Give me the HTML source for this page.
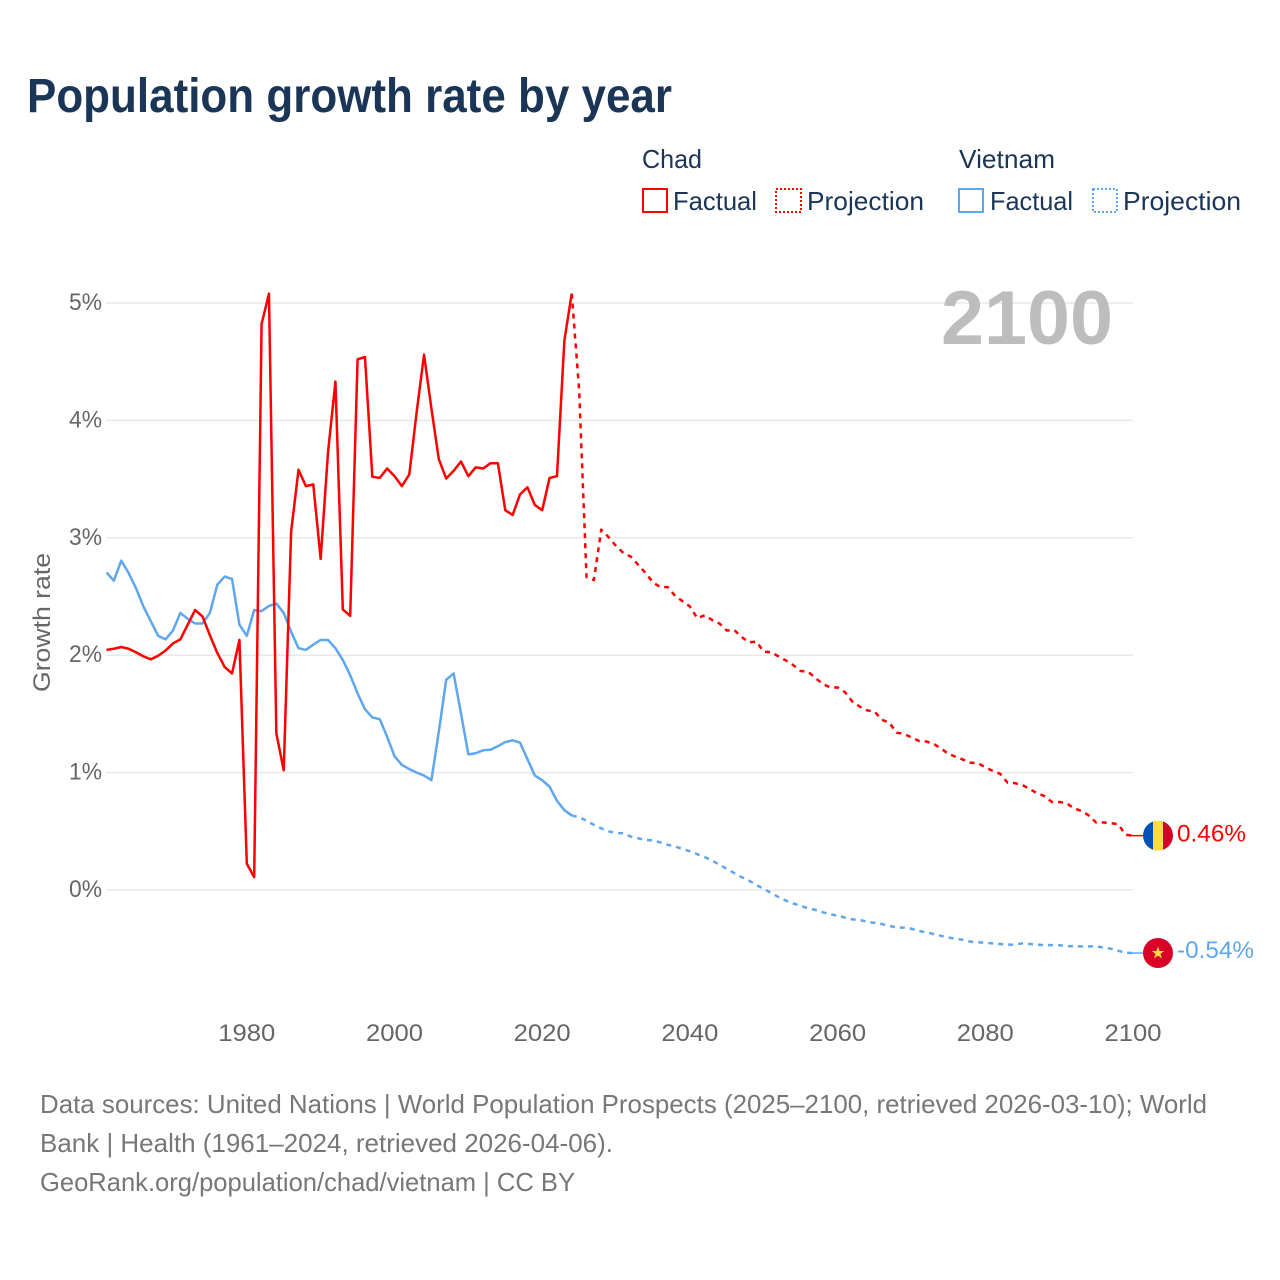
<!DOCTYPE html>
<html lang="en">
<head>
<meta charset="utf-8">
<title>Population growth rate by year</title>
<style>
html,body{margin:0;padding:0;background:#fff;}
svg{display:block;font-family:"Liberation Sans",Arial,sans-serif;}
</style>
</head>
<body>
<svg id="chart" xmlns="http://www.w3.org/2000/svg" width="1280" height="1280" viewBox="0 0 1280 1280">
  <rect x="0" y="0" width="1280" height="1280" fill="#ffffff"/>
  <text x="27" y="112" font-size="48" font-weight="700" fill="#1a3556" textLength="645" lengthAdjust="spacingAndGlyphs">Population growth rate by year</text>

  <g font-size="26" fill="#1a3556">
    <text x="642" y="168" textLength="60" lengthAdjust="spacingAndGlyphs">Chad</text>
    <rect x="643" y="189" width="24" height="23" fill="none" stroke="#ff0000" stroke-width="2"/>
    <text x="673" y="210" textLength="84" lengthAdjust="spacingAndGlyphs">Factual</text>
    <rect x="776" y="189" width="25" height="23" fill="none" stroke="#ff0000" stroke-width="2" stroke-dasharray="2 2"/>
    <text x="807" y="210" textLength="117" lengthAdjust="spacingAndGlyphs">Projection</text>
    <text x="959" y="168" textLength="96" lengthAdjust="spacingAndGlyphs">Vietnam</text>
    <rect x="959" y="189" width="24" height="23" fill="none" stroke="#5ea6ee" stroke-width="2"/>
    <text x="990" y="210" textLength="83" lengthAdjust="spacingAndGlyphs">Factual</text>
    <rect x="1093" y="189" width="24" height="23" fill="none" stroke="#5ea6ee" stroke-width="2" stroke-dasharray="2 2"/>
    <text x="1123" y="210" textLength="118" lengthAdjust="spacingAndGlyphs">Projection</text>
  </g>

  <g id="grid"></g>
  <text x="941" y="344" font-size="76" font-weight="700" fill="#bdbdbd" textLength="172" lengthAdjust="spacingAndGlyphs">2100</text>
  <g id="yticks" font-size="24" fill="#666666" text-anchor="end"></g>
  <g id="xticks" font-size="24" fill="#666666" text-anchor="middle"></g>
  <text transform="translate(50,692) rotate(-90)" font-size="24" fill="#666666" textLength="139" lengthAdjust="spacingAndGlyphs">Growth rate</text>

  <g id="series" fill="none" stroke-width="2.5" stroke-linejoin="round"></g>
  <g id="ends"></g>

  <g font-size="26" fill="#777777">
    <text x="40" y="1113" textLength="1167" lengthAdjust="spacingAndGlyphs">Data sources: United Nations | World Population Prospects (2025–2100, retrieved 2026-03-10); World</text>
    <text x="40" y="1152" textLength="573" lengthAdjust="spacingAndGlyphs">Bank | Health (1961–2024, retrieved 2026-04-06).</text>
    <text x="40" y="1191" textLength="535" lengthAdjust="spacingAndGlyphs">GeoRank.org/population/chad/vietnam | CC BY</text>
  </g>
</svg>
<script>
const factualYears = [1961,1962,1963,1964,1965,1966,1967,1968,1969,1970,1971,1972,1973,1974,1975,1976,1977,1978,1979,1980,1981,1982,1983,1984,1985,1986,1987,1988,1989,1990,1991,1992,1993,1994,1995,1996,1997,1998,1999,2000,2001,2002,2003,2004,2005,2006,2007,2008,2009,2010,2011,2012,2013,2014,2015,2016,2017,2018,2019,2020,2021,2022,2023,2024];
const projectionYears = [2024,2025,2026,2027,2028,2029,2030,2031,2032,2033,2034,2035,2036,2037,2038,2039,2040,2041,2042,2043,2044,2045,2046,2047,2048,2049,2050,2051,2052,2053,2054,2055,2056,2057,2058,2059,2060,2061,2062,2063,2064,2065,2066,2067,2068,2069,2070,2071,2072,2073,2074,2075,2076,2077,2078,2079,2080,2081,2082,2083,2084,2085,2086,2087,2088,2089,2090,2091,2092,2093,2094,2095,2096,2097,2098,2099,2100];
const chadFactual = [2.045,2.055,2.07,2.055,2.025,1.99,1.965,1.995,2.04,2.10,2.135,2.26,2.385,2.33,2.17,2.02,1.90,1.845,2.13,0.225,0.11,4.82,5.08,1.335,1.02,3.05,3.58,3.44,3.455,2.82,3.73,4.33,2.39,2.335,4.52,4.54,3.52,3.51,3.59,3.525,3.44,3.54,4.07,4.56,4.10,3.67,3.505,3.57,3.65,3.525,3.60,3.59,3.635,3.635,3.235,3.195,3.37,3.43,3.28,3.235,3.51,3.525,4.68,5.08];
const chadProjection = [5.08,4.26,2.665,2.64,3.07,3.005,2.93,2.87,2.84,2.77,2.70,2.62,2.58,2.58,2.505,2.46,2.415,2.315,2.34,2.30,2.27,2.21,2.215,2.155,2.11,2.115,2.03,2.025,1.99,1.955,1.915,1.865,1.86,1.805,1.755,1.725,1.725,1.685,1.605,1.5625,1.53,1.52,1.45,1.425,1.34,1.33,1.30,1.27,1.265,1.245,1.205,1.16,1.135,1.11,1.085,1.08,1.045,1.015,0.99,0.915,0.91,0.895,0.86,0.825,0.80,0.75,0.75,0.74,0.695,0.675,0.635,0.575,0.575,0.57,0.56,0.47,0.463];
const vietnamFactual = [2.705,2.635,2.805,2.70,2.57,2.415,2.29,2.165,2.135,2.21,2.36,2.31,2.27,2.27,2.36,2.60,2.67,2.65,2.26,2.165,2.385,2.375,2.42,2.44,2.36,2.20,2.06,2.045,2.09,2.13,2.13,2.06,1.96,1.83,1.675,1.54,1.47,1.455,1.305,1.14,1.065,1.03,1.00,0.975,0.935,1.35,1.79,1.845,1.505,1.155,1.165,1.19,1.195,1.225,1.26,1.275,1.255,1.115,0.975,0.935,0.88,0.76,0.68,0.635];
const vietnamProjection = [0.635,0.62,0.59,0.555,0.525,0.50,0.485,0.483,0.455,0.44,0.425,0.423,0.405,0.385,0.37,0.35,0.33,0.305,0.28,0.25,0.215,0.18,0.145,0.11,0.08,0.043,0.01,-0.025,-0.06,-0.09,-0.115,-0.135,-0.155,-0.17,-0.19,-0.205,-0.22,-0.235,-0.25,-0.255,-0.27,-0.28,-0.29,-0.305,-0.32,-0.32,-0.33,-0.35,-0.36,-0.375,-0.39,-0.405,-0.415,-0.425,-0.44,-0.445,-0.45,-0.455,-0.46,-0.465,-0.465,-0.455,-0.46,-0.465,-0.47,-0.47,-0.47,-0.477,-0.48,-0.48,-0.48,-0.48,-0.49,-0.50,-0.517,-0.535,-0.537];
const xTickYears = [1980,2000,2020,2040,2060,2080,2100];
const yTickValues = [0,1,2,3,4,5];
const endLabels = ['0.46%','-0.54%'];

const SVGNS = 'http://www.w3.org/2000/svg';
const RED = '#ff0000';
const BLUE = '#5ea6ee';
function xScale(year){ return 1133 + (year - 2100) * 7.385; }
function yScale(v){ return 890 - v * 117.4; }
function make(tag, parent, attrs){
  const el = document.createElementNS(SVGNS, tag);
  for (const k in attrs) el.setAttribute(k, attrs[k]);
  parent.appendChild(el);
  return el;
}
const gridG = document.getElementById('grid');
const yG = document.getElementById('yticks');
yTickValues.forEach(function(v){
  const line = make('line', gridG, {x1:xScale(1961), x2:xScale(2100), y1:yScale(v), y2:yScale(v), stroke:'#e9e9e9', 'stroke-width':1.5});
  
  
  const t = make('text', yG, {x:102, y:yScale(v)+7, textLength:33, lengthAdjust:'spacingAndGlyphs'});
  
  
  t.textContent = v + '%';
});
const xG = document.getElementById('xticks');
xTickYears.forEach(function(year){
  const t = make('text', xG, {x:xScale(year), y:1041, textLength:57, lengthAdjust:'spacingAndGlyphs'});
  
  
  t.textContent = year;
});
function linePath(years, values){
  return values.map(function(v,i){ return (i ? 'L' : 'M') + xScale(years[i]).toFixed(2) + ' ' + yScale(v).toFixed(2); }).join('');
}
const seriesG = document.getElementById('series');
const vf = make('path', seriesG, {d:linePath(factualYears, vietnamFactual), stroke:BLUE});


const vp = make('path', seriesG, {d:linePath(projectionYears, vietnamProjection), stroke:BLUE, 'stroke-dasharray':'5 5'});


const cf = make('path', seriesG, {d:linePath(factualYears, chadFactual), stroke:RED});


const cp = make('path', seriesG, {d:linePath(projectionYears, chadProjection), stroke:RED, 'stroke-dasharray':'5 5'});



const endsG = document.getElementById('ends');
const flagX = 1158, flagR = 15;
const chadY = yScale(chadProjection[chadProjection.length - 1]);
const vietY = yScale(vietnamProjection[vietnamProjection.length - 1]);

const chadStub = make('line', endsG, {x1:xScale(2100)-3, x2:flagX-flagR, y1:chadY, y2:chadY, stroke:RED, 'stroke-width':1.5});


const vietStub = make('line', endsG, {x1:xScale(2100)-3, x2:flagX-flagR, y1:vietY, y2:vietY, stroke:BLUE, 'stroke-width':1.5});



const clip = make('clipPath', endsG, {id:'chad-flag-clip'});
make('circle', clip, {cx:flagX, cy:chadY, r:flagR});
const chadFlag = make('g', endsG, {'clip-path':'url(#chad-flag-clip)'});


make('rect', chadFlag, {x:flagX-flagR, y:chadY-flagR, width:10, height:30, fill:'#0052b4'});
make('rect', chadFlag, {x:flagX-5, y:chadY-flagR, width:10, height:30, fill:'#ffda44'});
make('rect', chadFlag, {x:flagX+5, y:chadY-flagR, width:10, height:30, fill:'#d80027'});

const vietFlag = make('g', endsG, {transform:'translate(' + flagX + ',' + vietY + ')'});


make('circle', vietFlag, {cx:0, cy:0, r:flagR, fill:'#d80027'});
make('polygon', vietFlag, {points:'0,-6.5 1.6,-2 6.2,-2 2.5,0.8 3.9,5.3 0,2.6 -3.9,5.3 -2.5,0.8 -6.2,-2 -1.6,-2', fill:'#ffda44'});

const chadLabel = make('text', endsG, {x:1177, y:chadY+6, 'font-size':24, fill:RED, textLength:69, lengthAdjust:'spacingAndGlyphs'});


chadLabel.textContent = endLabels[0];
const vietLabel = make('text', endsG, {x:1177, y:vietY+5, 'font-size':24, fill:BLUE, textLength:77, lengthAdjust:'spacingAndGlyphs'});


vietLabel.textContent = endLabels[1];
</script>
</body>
</html>
